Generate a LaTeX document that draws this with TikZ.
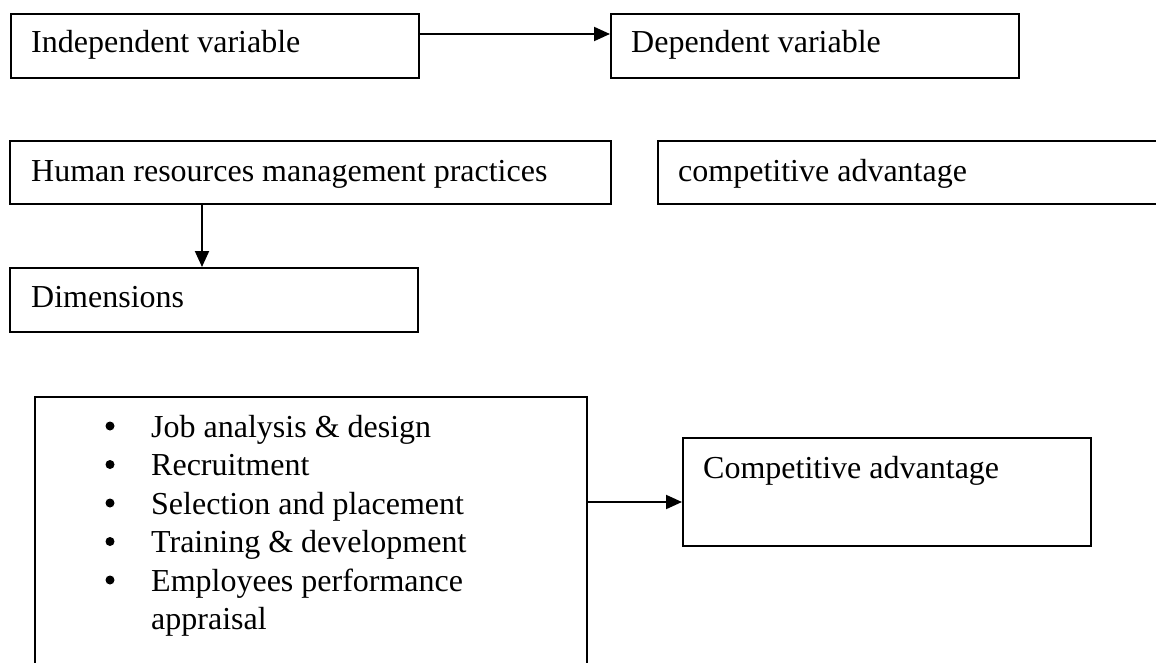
\documentclass[tikz,border=0pt]{standalone}
\usepackage{fontspec}
\setmainfont{Liberation Serif}
\usetikzlibrary{arrows.meta,calc}
\begin{document}
\begin{tikzpicture}[x=1pt,y=-1pt,
 box/.style={draw, line width=2pt, inner sep=0, anchor=north west},
 lbl/.style={anchor=base west, inner sep=0, font=\fontsize{32}{38.5}\selectfont},
 arr/.style={line width=2pt, -{Triangle[length=16pt,width=14pt]}},
 dot/.style={circle, fill, inner sep=0, minimum size=9pt}]
\useasboundingbox (0,0) rectangle (1156,663);
\clip (0,0) rectangle (1156,663);
% boxes
\node[box, minimum width=408.5pt, minimum height=64pt] (b1) at (9.5,13) {};
\node[box, minimum width=408pt, minimum height=64pt] (b2) at (610,13) {};
\node[box, minimum width=601pt, minimum height=63pt] (b3) at (9,140) {};
\node[box, minimum width=520pt, minimum height=63pt] (b4) at (657,140) {};
\node[box, minimum width=408pt, minimum height=64pt] (b5) at (9,267) {};
\node[box, minimum width=552pt, minimum height=300pt] (b6) at (34,396) {};
\node[box, minimum width=408pt, minimum height=108pt] (b7) at (682,437) {};
% labels
\node[lbl] (t1) at (31,53) {Independent variable};
\node[lbl] (t2) at (631,53) {Dependent variable};
\node[lbl] (t3) at (31,182) {Human resources management practices};
\node[lbl] (t4) at (678,182) {competitive advantage};
\node[lbl] (t5) at (31,307) {Dimensions};
\node[lbl] (t7) at (703,478) {Competitive advantage};
% list
\node[lbl] (l1) at (151,437) {Job analysis \& design};
\node[lbl] (l2) at (151,475.5) {Recruitment};
\node[lbl] (l3) at (151,514) {Selection and placement};
\node[lbl] (l4) at (151,552.5) {Training \& development};
\node[lbl] (l5) at (151,591) {Employees performance};
\node[lbl] (l6) at (151,629.5) {appraisal};
\node[dot] (d1) at (110,426) {};
\node[dot] (d2) at (110,464.5) {};
\node[dot] (d3) at (110,503) {};
\node[dot] (d4) at (110,541.5) {};
\node[dot] (d5) at (110,580) {};
% connectors
\coordinate (y1) at (0,34);
\coordinate (x2) at (202,0);
\coordinate (y3) at (0,502);
\draw[arr] (b1.east |- y1) -- (b2.west |- y1);
\draw[arr] (b3.south -| x2) -- (b5.north -| x2);
\draw[arr] (b6.east |- y3) -- (b7.west |- y3);
\end{tikzpicture}
\end{document}
